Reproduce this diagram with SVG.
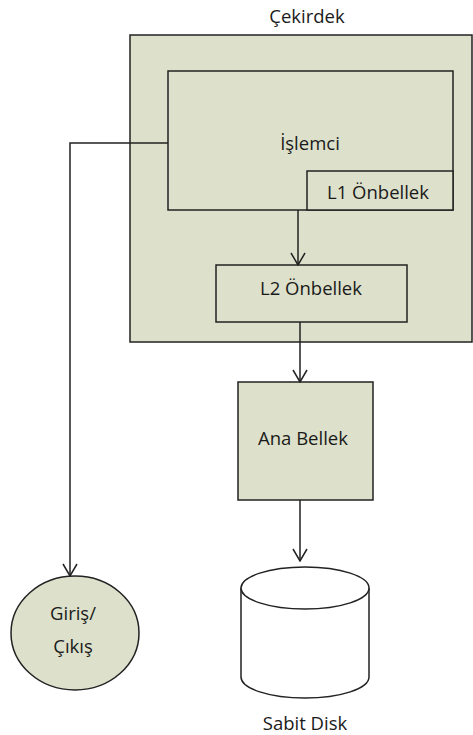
<svg xmlns="http://www.w3.org/2000/svg" width="473" height="735" viewBox="0 0 473 735">
<style>
text{font-family:"Open Sans","Liberation Sans",sans-serif;font-size:18.5px;fill:#1a1a1a;text-anchor:middle;dominant-baseline:central}
.box{fill:#dde1cb;stroke:#222;stroke-width:1.5}
.line{fill:none;stroke:#222;stroke-width:1.5}
</style>
<defs>
<marker id="arr" viewBox="0 0 14 18" refX="13" refY="9" markerWidth="14" markerHeight="18" markerUnits="userSpaceOnUse" orient="auto">
<path d="M1,2 L13,9 L1,16" fill="none" stroke="#222" stroke-width="1.5"/>
</marker>
</defs>
<g id="cekirdek">
<rect class="box" x="130" y="35" width="342" height="307"/>
<text x="307" y="15">Çekirdek</text>
</g>
<g id="islemci">
<rect class="box" x="168" y="71" width="285" height="139"/>
<text x="310" y="142">İşlemci</text>
</g>
<g id="l1">
<rect class="box" x="307" y="171" width="146" height="39"/>
<text x="378" y="191">L1 Önbellek</text>
</g>
<g id="l2">
<rect class="box" x="216" y="265" width="191" height="57"/>
<text x="311" y="287">L2 Önbellek</text>
</g>
<g id="anabellek">
<rect class="box" x="238" y="382" width="135" height="118"/>
<text x="303" y="437">Ana Bellek</text>
</g>
<g id="disk">
<path class="line" d="M241,588 L241,677 A64,21 0 0 0 369,677 L369,588" style="fill:#fff"/>
<ellipse cx="305" cy="588" rx="64" ry="21" fill="#fff" stroke="#222" stroke-width="1.5"/>
<text x="305" y="722">Sabit  Disk</text>
</g>
<g id="girisCikis">
<ellipse class="box" cx="75" cy="633" rx="64" ry="57"/>
<text x="73" y="612">Giriş/</text>
<text x="73" y="645">Çıkış</text>
</g>
<g id="connectors">
<path class="line" d="M298,210 L298,265" marker-end="url(#arr)"/>
<path class="line" d="M300,322 L300,382" marker-end="url(#arr)"/>
<path class="line" d="M300,500 L300,561" marker-end="url(#arr)"/>
<path class="line" d="M168,143 L70,143 L70,576" marker-end="url(#arr)"/>
</g>
</svg>
